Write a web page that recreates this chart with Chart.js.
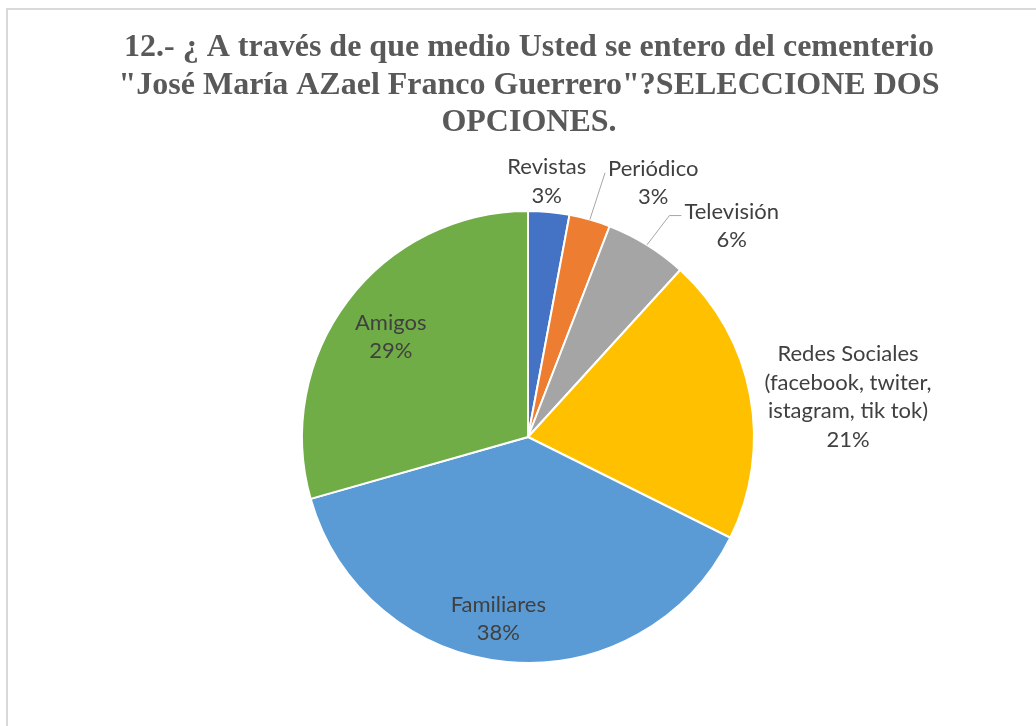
<!DOCTYPE html>
<html lang="es">
<head>
  <meta charset="UTF-8">
  <title>Medio por el que se enteró del cementerio</title>
  <script src="https://cdn.jsdelivr.net/npm/chart.js"></script>
  <style>
    body {
      margin: 0;
      background: #fff;
    }
    .wrap {
      position: relative;
      width: 1036px;
      height: 726px;
      overflow: hidden;
    }
    .frame {
      position: absolute;
      left: 6px;
      top: 8px;
      width: 1100px;
      height: 800px;
      border-left: 2px solid #d9d9d9;
      border-top: 2px solid #d9d9d9;
    }
    canvas {
      position: absolute;
      left: 0;
      top: 0;
    }
  </style>
</head>
<body>
<div class="wrap">
  <div class="frame"></div>
  <canvas id="pie" width="1036" height="726"></canvas>
</div>
<script>
  // categories and answers (count of answers, percentages derived below)
  const categories = [
    ['Revistas'],
    ['Periódico'],
    ['Televisión'],
    ['Redes Sociales', '(facebook, twiter,', 'istagram, tik tok)'],
    ['Familiares'],
    ['Amigos']
  ];
  const answers = [1, 1, 2, 7, 13, 10];
  const sliceColors = ['#4472C4', '#ED7D31', '#A5A5A5', '#FFC000', '#5B9BD5', '#70AD47'];

  const titleLines = [
    '12.- ¿ A través de que medio Usted se entero del cementerio',
    '"José María AZael Franco Guerrero"?SELECCIONE DOS',
    'OPCIONES.'
  ];

  // where each data label sits: radius factor along the slice middle + small nudge
  const labelPlace = [
    { f: 1.14, dx: -5, dy: 1 },
    { f: 1.2, dx: 51, dy: 7, leader: true, elbow: 0 },
    { f: 1.25, dx: 55, dy: 29, leader: true, elbow: 12 },
    { f: 1.4, dx: 9, dy: 18 },
    { f: 0.8, dx: -13, dy: 2 },
    { f: 0.75, dx: -2, dy: 2 }
  ];

  const total = answers.reduce((a, b) => a + b, 0);

  // big multi-line title, drawn wide over the whole canvas
  const wideTitle = {
    id: 'wideTitle',
    afterDraw(chart) {
      const ctx = chart.ctx;
      const a = chart.chartArea;
      const x = (a.left + a.right) / 2 + 1;
      ctx.save();
      ctx.font = 'bold 32px "Liberation Serif"';
      ctx.fillStyle = '#595959';
      ctx.textAlign = 'center';
      ctx.textBaseline = 'middle';
      titleLines.forEach((t, k) => ctx.fillText(t, x, 48 + k * 37.5));
      ctx.restore();
    }
  };

  const pieLabels = {
    id: 'pieLabels',
    afterDatasetsDraw(chart) {
      const ctx = chart.ctx;
      const arcs = chart.getDatasetMeta(0).data;
      const lineH = 28.5;
      ctx.save();
      ctx.font = '22px Lato';
      ctx.fillStyle = '#404040';
      ctx.textAlign = 'center';
      ctx.textBaseline = 'middle';
      arcs.forEach((arc, i) => {
        const p = arc.getProps(['x', 'y', 'startAngle', 'endAngle', 'outerRadius'], true);
        const mid = (p.startAngle + p.endAngle) / 2;
        const place = labelPlace[i];
        const cx = p.x + Math.cos(mid) * p.outerRadius * place.f + place.dx;
        const cy = p.y + Math.sin(mid) * p.outerRadius * place.f + place.dy;
        const lines = categories[i].concat([Math.round(answers[i] / total * 100) + '%']);
        const top = cy - (lines.length - 1) * lineH / 2;
        lines.forEach((t, k) => ctx.fillText(t, cx, top + k * lineH));
        if (place.leader) {
          const w = ctx.measureText(lines[0]).width;
          const ex = cx - w / 2 - 3;
          const ey = top + 4;
          const sx = p.x + Math.cos(mid) * p.outerRadius;
          const sy = p.y + Math.sin(mid) * p.outerRadius;
          ctx.strokeStyle = '#a6a6a6';
          ctx.lineWidth = 1;
          ctx.beginPath();
          ctx.moveTo(sx, sy);
          ctx.lineTo(ex - place.elbow, ey);
          ctx.lineTo(ex, ey);
          ctx.stroke();
        }
      });
      ctx.restore();
    }
  };

  new Chart(document.getElementById('pie'), {
    type: 'pie',
    data: {
      labels: categories.map(c => c.join(' ')),
      datasets: [{
        data: answers,
        backgroundColor: sliceColors,
        borderColor: '#ffffff',
        borderWidth: 2
      }]
    },
    options: {
      responsive: false,
      animation: false,
      layout: {
        padding: { top: 210, left: 301, right: 281, bottom: 62 }
      },
      plugins: {
        legend: { display: false },
        tooltip: { enabled: false },
        title: { display: false }
      }
    },
    plugins: [pieLabels, wideTitle]
  });
</script>
</body>
</html>
